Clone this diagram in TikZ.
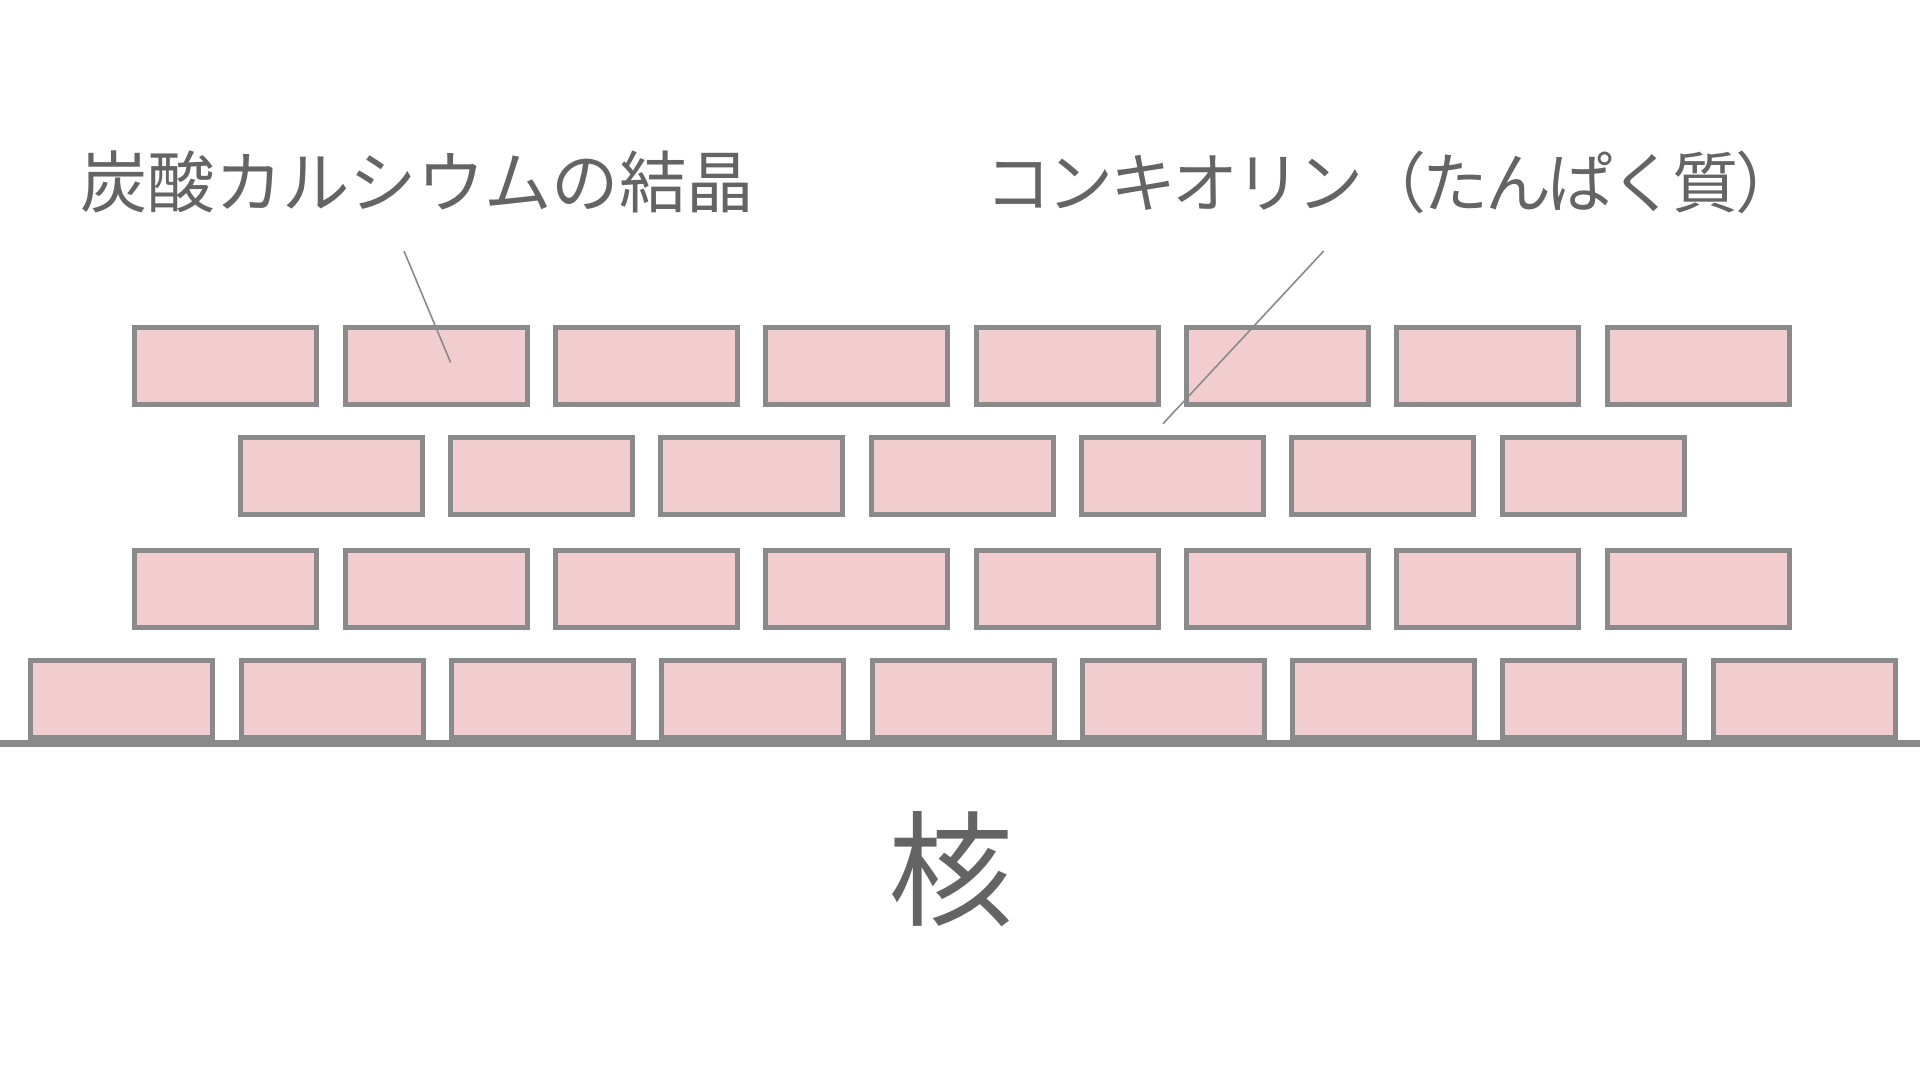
\documentclass[tikz,border=0pt]{standalone}
\usepackage{fontspec}
\newfontfamily\jp{Noto Sans CJK JP}
\newfontfamily\jpt[LetterSpace=-5.3]{Noto Sans CJK JP}
\definecolor{brickfill}{HTML}{F2CDCF}
\definecolor{brickline}{HTML}{8A8A8A}
\definecolor{txt}{HTML}{646464}
\tikzset{
  brick/.style={draw=brickline, fill=brickfill, line width=5pt, minimum width=182pt, minimum height=77pt, inner sep=0pt},
  label/.style={text=txt, inner sep=0pt},
  leader/.style={draw=brickline, line width=1.6pt}
}
\begin{document}
\begin{tikzpicture}[x=1pt,y=-1pt]
\fill[white] (0,0) rectangle (1920,1080);
\useasboundingbox (0,0) rectangle (1920,1080);
% row 1 and 3
\foreach \i in {0,...,7}{
  \node[brick] (ra\i) at ({225.9+\i*210.3},365.5) {};
  \node[brick] (rc\i) at ({225.9+\i*210.3},589) {};
}
% row 2
\foreach \i in {0,...,6}{
  \node[brick] (rb\i) at ({331.2+\i*210.3},476.3) {};
}
% row 4
\foreach \i in {0,...,8}{
  \node[brick] (rd\i) at ({121.8+\i*210.3},698.6) {};
}
% ground
\coordinate (gl) at (0,743);
\coordinate (gr) at (1920,743);
\draw[draw=brickline, line width=7pt] (gl) -- (gr);
% labels
\node[label, font=\jp\fontsize{67.4}{80}\selectfont, anchor=west] (t1) at (80,182) {炭酸カルシウムの結晶};
\node[label, font=\jpt\fontsize{66}{80}\selectfont, anchor=west] (t2) at (985,182) {コンキオリン（たんぱく質）};
\node[label, font=\jp\fontsize{125}{140}\selectfont] (core) at (951,869) {核};
% leaders
\coordinate (l1a) at (404,251);
\coordinate (l1b) at (450.6,362.5);
\coordinate (l2a) at (1323.7,251);
\coordinate (l2b) at (1163,423.7);
\draw[leader] (l1a) -- (l1b);
\draw[leader] (l2a) -- (l2b);
\end{tikzpicture}
\end{document}
